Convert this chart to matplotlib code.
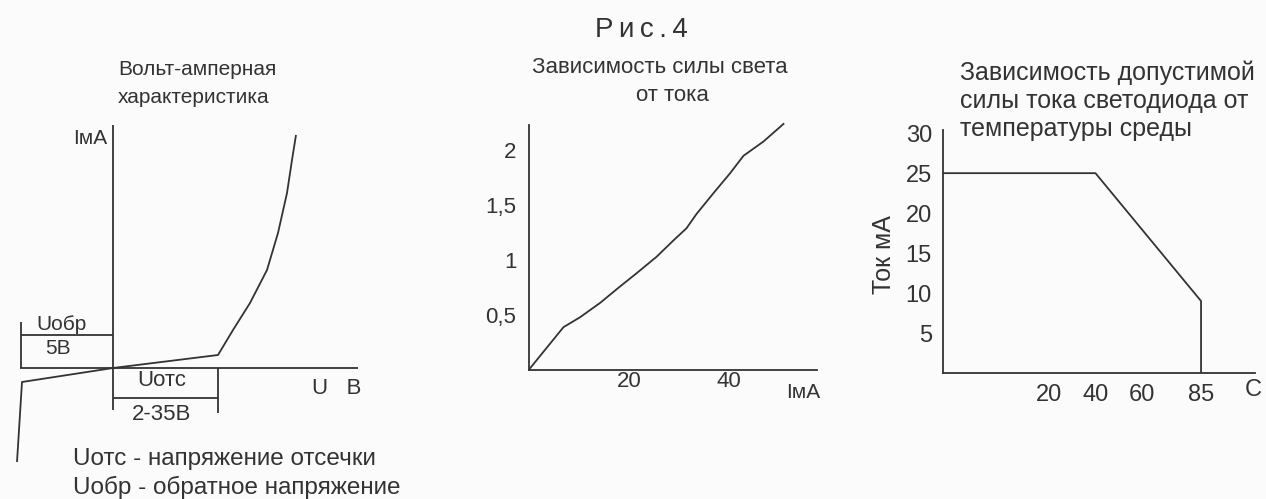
import matplotlib

matplotlib.use("Agg")

import matplotlib.pyplot as plt  # noqa: E402

plt.rcParams["font.family"] = ["Liberation Sans", "DejaVu Sans"]

INK = "#333333"
W, H = 1266, 499

# --- Вольт-амперная характеристика (условные единицы рисунка) ---
vac_fwd_u = [0, 105, 120, 137, 154, 165, 174, 179, 183]
vac_fwd_i = [0, 13, 38, 65, 98, 135, 175, 208, 233]
vac_rev_u = [0, -91, -96]
vac_rev_i = [0, -14, -94]

# --- Зависимость силы света от тока ---
led_current = [0.2, 3.5, 6.9, 10.2, 14.2, 18.2, 21.5, 25.5, 28.9, 31.5,
               33.5, 36.9, 40.2, 42.9, 46.9, 50.9]
led_light = [0.015, 0.20, 0.39, 0.48, 0.61, 0.76, 0.88, 1.03, 1.18, 1.29,
             1.42, 1.61, 1.79, 1.95, 2.08, 2.24]
light_ticks = [0.5, 1, 1.5, 2]
light_labels = ["0,5", "1", "1,5", "2"]
current_ticks = [20, 40]

# --- Допустимый ток от температуры ---
temp_c = [-25, 40, 85, 85]
max_current = [25, 25, 9, 0]
temp_ticks = [20, 40, 60, 85]
ma_ticks = [5, 10, 15, 20, 25, 30]


def fx(x):
    return x / W


def fy(y):
    return 1 - y / H


def px_axes(fig, left, top, right, bottom):
    return fig.add_axes([left / W, 1 - bottom / H, (right - left) / W, (bottom - top) / H])


def style_axes(ax, size, pad):
    ax.patch.set_alpha(0)
    ax.tick_params(length=0, labelsize=size, colors=INK, pad=pad)
    for s in ("top", "right"):
        ax.spines[s].set_visible(False)
    for s in ("left", "bottom"):
        ax.spines[s].set_color(INK)
        ax.spines[s].set_linewidth(1.3)


def label(x, y, s, size, **kw):
    kw.setdefault("va", "baseline")
    fig.text(fx(x), fy(y), s, fontsize=size, color=INK, **kw)


fig = plt.figure(figsize=(W / 100, H / 100), dpi=100, facecolor="#fbfbfb")

label(641, 37, "Р\u2009и\u2009с\u2009.\u20094", 20, ha="center")
label(118, 75, "Вольт-амперная", 15)
label(118, 103, "характеристика", 15)
label(660, 73, "Зависимость силы света", 16, ha="center")
label(672, 101, "от тока", 16, ha="center")
label(960, 80, "Зависимость допустимой", 18)
label(960, 108, "силы тока светодиода от", 18)
label(960, 136, "температуры среды", 18)

# ---- панель 1 ----
ax1 = px_axes(fig, 0, 100, 400, 499)
ax1.set_xlim(-113, 287)
ax1.set_ylim(-131, 268)
ax1.axis("off")
ax1.patch.set_alpha(0)
lk = dict(color=INK, lw=1.3, solid_capstyle="butt")
ax1.plot([0, 0], [-42, 243], **lk)
ax1.plot([-93, 245], [0, 0], **lk)
ax1.plot(vac_fwd_u, vac_fwd_i, **lk)
ax1.plot(vac_rev_u, vac_rev_i, **lk)
ax1.plot([-92, -92], [0, 46], **lk)
ax1.plot([-92, 0], [33, 33], **lk)
ax1.plot([105, 105], [0, -45], **lk)
ax1.plot([0, 105], [-30, -30], **lk)
ax1.text(-6, 230, "IмА", fontsize=15, color=INK, ha="right", va="center")
ax1.text(-52, 43, "Uобр", fontsize=15, color=INK, ha="center", va="center")
ax1.text(-55, 19, "5В", fontsize=15, color=INK, ha="center", va="center")
ax1.text(49, -13, "Uотс", fontsize=16, color=INK, ha="center", va="center")
ax1.text(49, -47, "2-35В", fontsize=16, color=INK, ha="center", va="center")
ax1.text(199, -20, "U   B", fontsize=16, color=INK, ha="left", va="center")
label(73, 459, "Uотс - напряжение отсечки", 17.5, va="center")
label(73, 487, "Uобр - обратное напряжение", 17.5, va="center")

# ---- панель 2 ----
ax2 = px_axes(fig, 529, 125, 817, 370)
ax2.plot(led_current, led_light, color=INK, lw=1.3, clip_on=False)
ax2.set_xlim(0, 57.6)
ax2.set_ylim(0, 2.23)
ax2.set_xticks(current_ticks)
ax2.set_yticks(light_ticks)
ax2.set_yticklabels(light_labels)
style_axes(ax2, 16, 9)
ax2.tick_params(axis="x", pad=1)
label(803, 393, "IмА", 15, ha="center", va="center")

# ---- панель 3 ----
ax3 = px_axes(fig, 943, 130, 1255, 373)
ax3.plot(temp_c, max_current, color=INK, lw=1.3)
ax3.set_xlim(-25, 108)
ax3.set_ylim(0, 30.4)
ax3.set_xticks(temp_ticks)
ax3.set_yticks(ma_ticks)
style_axes(ax3, 17, 8)
label(884, 255, "Ток мА", 18, rotation=90, ha="center", va="center")
label(1253, 390, "C", 17, ha="center", va="center")

fig.savefig("out.png", dpi=100, facecolor=fig.get_facecolor())
